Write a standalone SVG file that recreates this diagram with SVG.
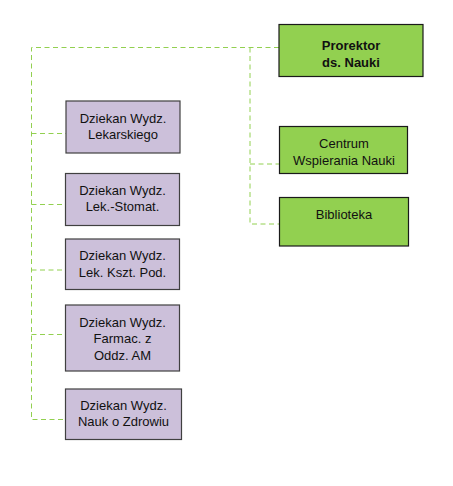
<svg xmlns="http://www.w3.org/2000/svg" width="453" height="486" viewBox="0 0 453 486">
<style>
.c{fill:none;stroke:#92D050;stroke-width:1;stroke-dasharray:5 3.5}
.g{fill:#92D050;stroke:#1a1a1a;stroke-width:1.2}
.p{fill:#CCC0DA;stroke:#404040;stroke-width:1.2}
text{font-family:"Liberation Sans",Arial,sans-serif;font-size:13px;fill:#111;text-anchor:middle}
.b{font-weight:bold}
</style>
<rect width="453" height="486" fill="#fff"/>
<g id="connectors">
<path class="c" d="M279 47.5H31.5V419.5H66"/>
<path class="c" d="M31.5 133.5H66M31.5 204.5H66M31.5 270H66M31.5 334.5H66"/>
<path class="c" d="M250 47.5V224H279M250 164H279"/>
</g>
<g id="prorektor"><rect class="g" x="279" y="24.5" width="144" height="52"/><text class="b" x="351" y="49.5">Prorektor</text><text class="b" x="351" y="66.5">ds. Nauki</text></g>
<g id="centrum"><rect class="g" x="279.5" y="126.5" width="128" height="47"/><text x="344" y="147.5">Centrum</text><text x="344" y="165">Wspierania Nauki</text></g>
<g id="biblioteka"><rect class="g" x="279.5" y="197.5" width="129" height="48.5"/><text x="344" y="218.5">Biblioteka</text></g>
<g id="lekarskiego"><rect class="p" x="66" y="101" width="114" height="52"/><text x="123" y="122.7">Dziekan Wydz.</text><text x="123" y="138.5">Lekarskiego</text></g>
<g id="stomat"><rect class="p" x="65.5" y="173.5" width="114" height="52"/><text x="122.5" y="195">Dziekan Wydz.</text><text x="122.5" y="211">Lek.-Stomat.</text></g>
<g id="kszt"><rect class="p" x="65.5" y="239" width="114" height="50.5"/><text x="122.5" y="260">Dziekan Wydz.</text><text x="122.5" y="276.5">Lek. Kszt. Pod.</text></g>
<g id="farmac"><rect class="p" x="65.5" y="305" width="114" height="66"/><text x="122.5" y="326.7">Dziekan Wydz.</text><text x="122.5" y="343.3">Farmac. z</text><text x="122.5" y="360">Oddz. AM</text></g>
<g id="zdrowie"><rect class="p" x="65.5" y="389" width="116" height="50.5"/><text x="123.5" y="410">Dziekan Wydz.</text><text x="123.5" y="426">Nauk o Zdrowiu</text></g>
</svg>
